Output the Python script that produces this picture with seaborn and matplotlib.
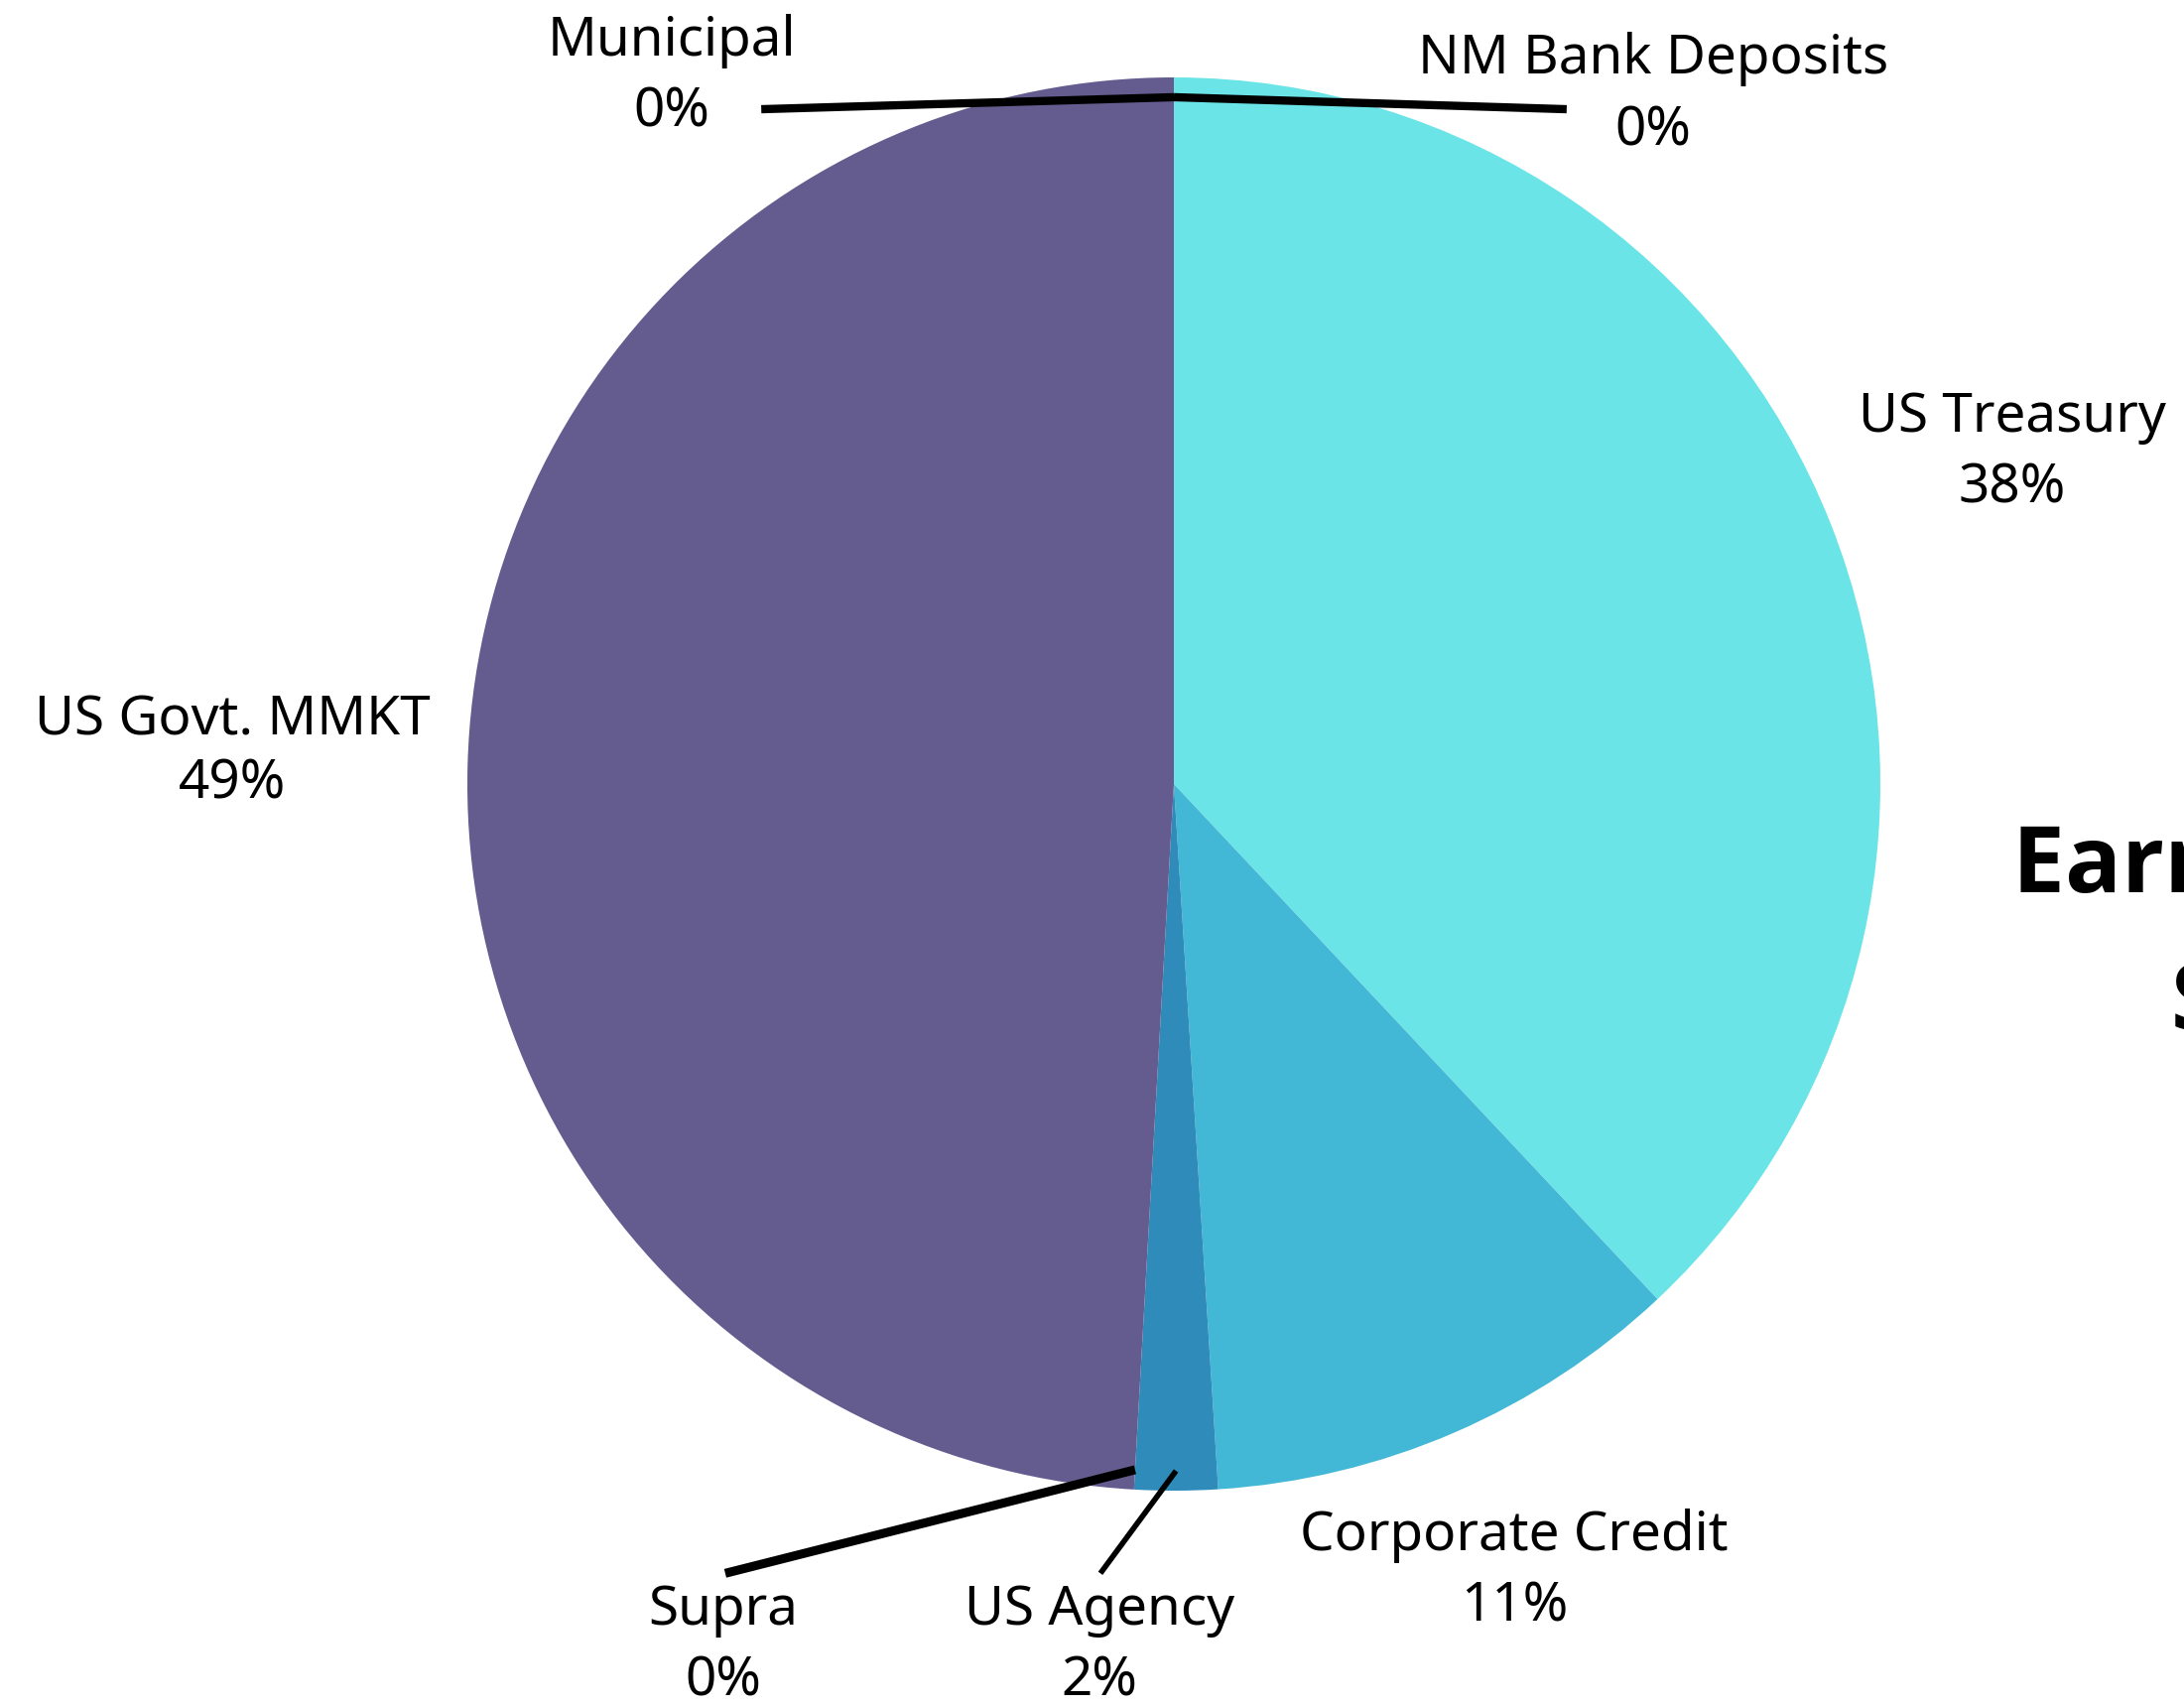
import numpy as np
import matplotlib.pyplot as plt
import seaborn as sns

# Portfolio share by security type (clockwise from 12 o'clock)
categories = ["NM Bank Deposits", "US Treasury", "Corporate Credit", "US Agency",
              "Supra", "US Govt. MMKT", "Municipal"]
shares = [0.0, 38.0, 11.0, 1.9, 0.0, 49.1, 0.0]
colors = ["#4FC3E0", "#6BE4E8", "#42B7D6", "#2E8BBA", "#3F6FA8", "#645B8F", "#5A5A90"]
title_lines = ["Earnings by", "Sector"]

# label anchor (data units, pie radius = 1) and leader-line end
label_pos = {
    "NM Bank Deposits": (0.678, 0.975),
    "US Treasury": (1.187, 0.469),
    "Corporate Credit": (0.482, -1.114),
    "US Agency": (-0.105, -1.219),
    "Supra": (-0.638, -1.219),
    "US Govt. MMKT": (-1.333, 0.045),
    "Municipal": (-0.711, 1.001),
}
leader_end = {
    "NM Bank Deposits": (0.556, 0.955),
    "US Agency": (-0.104, -1.117),
    "Supra": (-0.635, -1.117),
    "Municipal": (-0.584, 0.955),
}
leader_width = {"NM Bank Deposits": 6, "Municipal": 6, "Supra": 6.5, "US Agency": 4}


def main():
    sns.set_theme(style="white")
    plt.rcParams['font.family'] = ['Noto Sans', 'DejaVu Sans']

    W, H = 2201, 1720
    fig = plt.figure(figsize=(W / 100, H / 100), dpi=100)
    cx, cy, r = 1183, 790, 712
    ax = fig.add_axes([(cx - r) / W, (H - cy - r) / H, 2 * r / W, 2 * r / H])

    wedges, _ = ax.pie(shares, colors=colors, startangle=90, counterclock=False,
                       radius=1, wedgeprops=dict(linewidth=0))
    ax.set_xlim(-1, 1)
    ax.set_ylim(-1, 1)
    ax.set_aspect('equal')
    ax.axis('off')

    for w, name, val in zip(wedges, categories, shares):
        lx, ly = label_pos[name]
        sp = 1.2 if name == "US Govt. MMKT" else 1.4
        ax.text(lx, ly, f"{name}\n{val:.0f}%", ha='center', va='center',
                fontsize=39.5, linespacing=sp, color='black')
        if name in leader_end:
            ang = np.deg2rad((w.theta1 + w.theta2) / 2)
            x0, y0 = 0.972 * np.cos(ang), 0.972 * np.sin(ang)
            ex, ey = leader_end[name]
            ax.plot([x0, ex], [y0, ey], color='black', lw=leader_width[name],
                    solid_capstyle='butt', clip_on=False)

    # title sits at the right edge, partly outside the canvas
    for line, (tx, ty) in zip(title_lines, [(1.187, -0.118), (1.411, -0.312)]):
        ax.text(tx, ty, line, ha='left', va='center', fontsize=68,
                fontweight='bold', family=['Open Sans', 'DejaVu Sans'],
                color='black')

    plt.savefig('out.png', dpi=100)
    plt.close()


if __name__ == '__main__':
    main()
